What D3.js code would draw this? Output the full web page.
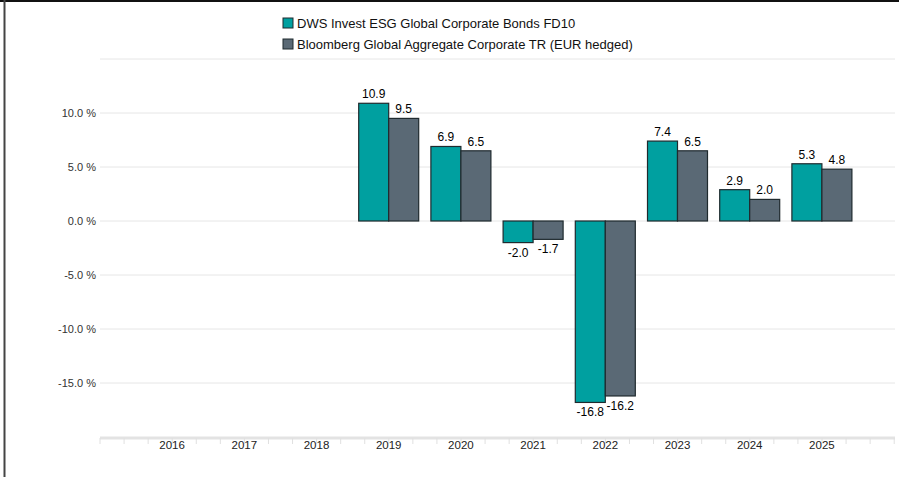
<!DOCTYPE html>
<html>
<head>
<meta charset="utf-8">
<script src="https://cdn.jsdelivr.net/npm/d3@7"></script>
<style>
	body { margin: 0; background: #fff; }
	svg { display: block; font-family: "Liberation Sans", Arial, sans-serif; }
</style>
</head>
<body>
<script>
const years = ["2016", "2017", "2018", "2019", "2020", "2021", "2022", "2023", "2024", "2025"];
const fondo = [null, null, null, 10.9, 6.9, -2.0, -16.8, 7.4, 2.9, 5.3];
const benchmark = [null, null, null, 9.5, 6.5, -1.7, -16.2, 6.5, 2.0, 4.8];
const serieNomi = ["DWS Invest ESG Global Corporate Bonds FD10", "Bloomberg Global Aggregate Corporate TR (EUR hedged)"];
const yTicks = [-15, -10, -5, 0, 5, 10];

const width = 899;
const height = 477;
const colori = ["#00a0a0", "#5a6975"];

const svg = d3.select("body")
	.append("svg")
	.attr("width", width)
	.attr("height", height);

// bordo in alto e a sinistra
svg.append("line").attr("x1", 0).attr("x2", width).attr("y1", 1).attr("y2", 1)
	.attr("stroke", "#111").attr("stroke-width", 2);
svg.append("line").attr("x1", 4.5).attr("x2", 4.5).attr("y1", 0).attr("y2", height)
	.attr("stroke", "#444").attr("stroke-width", 2);

const left = 100, right = 895;
const scaleY = d3.scaleLinear().domain([-20, 15]).range([437, 59]);
const scaleX = d3.scaleBand().domain(years).range([left + 36, right - 37]);
const inner = d3.scaleBand().domain([0, 1]).range([0, 60]);

// griglia
svg.append("g")
	.selectAll("line")
	.data(d3.range(-15, 16, 5))
	.join("line")
	.attr("x1", left).attr("x2", right)
	.attr("y1", d => scaleY(d)).attr("y2", d => scaleY(d))
	.attr("stroke", "#e6e6e6").attr("stroke-width", 1);

// etichette asse y
svg.append("g")
	.selectAll("text")
	.data(yTicks)
	.join("text")
	.attr("x", 96)
	.attr("y", d => scaleY(d) + 4)
	.attr("text-anchor", "end")
	.attr("font-size", 11)
	.attr("fill", "#333")
	.text(d => d.toFixed(1) + " %");

// asse x
svg.append("line").attr("x1", left).attr("x2", right)
	.attr("y1", 438).attr("y2", 438)
	.attr("stroke", "#e3e3e3").attr("stroke-width", 3);
const passo = scaleX.bandwidth() / 3;
svg.append("g")
	.selectAll("line")
	.data(d3.range(0, Math.round((right - left) / passo) + 1))
	.join("line")
	.attr("x1", i => left + i * passo).attr("x2", i => left + i * passo)
	.attr("y1", 438).attr("y2", 444)
	.attr("stroke", "#e0e0e0").attr("stroke-width", 1);

svg.append("g")
	.selectAll("text")
	.data(years)
	.join("text")
	.attr("x", d => scaleX(d) + scaleX.bandwidth() / 2)
	.attr("y", 449)
	.attr("text-anchor", "middle")
	.attr("font-size", 11.5)
	.attr("fill", "#222")
	.text(d => d);

// barre
[fondo, benchmark].forEach((serie, s) => {
	const g = svg.append("g");
	const dati = years.map((y, i) => ({ anno: y, v: serie[i] })).filter(d => d.v !== null);
	const x0 = d => scaleX(d.anno) + scaleX.bandwidth() / 2 - 30 + inner(s);

	g.selectAll("rect")
		.data(dati)
		.join("rect")
		.attr("x", x0)
		.attr("width", inner.bandwidth())
		.attr("y", d => scaleY(Math.max(0, d.v)))
		.attr("height", d => Math.abs(scaleY(d.v) - scaleY(0)))
		.attr("fill", colori[s])
		.attr("stroke", "#1f2a2e")
		.attr("stroke-width", 1.2);

	g.selectAll("text")
		.data(dati)
		.join("text")
		.attr("x", d => x0(d) + inner.bandwidth() / 2)
		.attr("y", d => d.v >= 0 ? scaleY(d.v) - 5 : scaleY(d.v) + 14)
		.attr("text-anchor", "middle")
		.attr("font-size", 12)
		.attr("fill", "#000")
		.text(d => d.v.toFixed(1));
});

// legenda
const legenda = svg.append("g").attr("transform", "translate(283, 0)");
serieNomi.forEach((nome, i) => {
	legenda.append("rect")
		.attr("x", 0).attr("y", 18 + i * 21)
		.attr("width", 10).attr("height", 10)
		.attr("fill", colori[i])
		.attr("stroke", "#1f2a2e").attr("stroke-width", 1);
	legenda.append("text")
		.attr("x", 14).attr("y", 27.5 + i * 21)
		.attr("font-size", 13)
		.attr("fill", "#111")
		.text(nome);
});
</script>
</body>
</html>
